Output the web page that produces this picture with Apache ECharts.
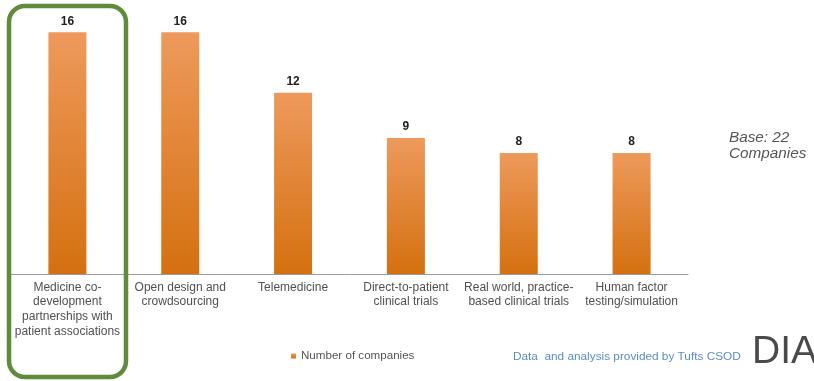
<!DOCTYPE html>
<html><head><meta charset="utf-8">
<script src="https://cdn.jsdelivr.net/npm/echarts@6/dist/echarts.min.js"></script>
<style>html,body{margin:0;padding:0;background:#fff}#c{width:814px;height:381px}</style>
</head><body><div id="c"></div>
<script>
const categories = [
  "Medicine co-\ndevelopment\npartnerships with\npatient associations",
  "Open design and\ncrowdsourcing",
  "Telemedicine",
  "Direct-to-patient\nclinical trials",
  "Real world, practice-\nbased clinical trials",
  "Human factor\ntesting/simulation"
];
const seriesName = "Number of companies";
const values = [16, 16, 12, 9, 8, 8];
const baseNote = "Base: 22\nCompanies";
const sourceNote = "Data  and analysis provided by Tufts CSOD";

const chart = echarts.init(document.getElementById('c'), null, {renderer: 'canvas'});
chart.setOption({
  animation: false,
  backgroundColor: '#fff',
  grid: {left: 11, right: 126, top: 2, bottom: 107, containLabel: false},
  legend: {
    data: [seriesName], left: 286, top: 345, itemWidth: 5, itemHeight: 5, itemGap: 2,
    icon: 'rect',
    textStyle: {fontFamily: 'Liberation Sans', fontSize: 11.6, color: '#555'}
  },
  xAxis: {
    type: 'category', data: categories,
    axisLine: {lineStyle: {color: '#9a9a9a', width: 1}},
    axisTick: {show: false},
    axisLabel: {interval: 0, margin: 6, fontFamily: 'Liberation Sans', fontSize: 12, lineHeight: 14.7, color: '#505050'}
  },
  yAxis: {type: 'value', min: 0, max: 18, show: false, splitLine: {show: false}},
  series: [{
    name: seriesName, type: 'bar', data: values, barWidth: 38,
    itemStyle: {color: new echarts.graphic.LinearGradient(0, 0, 0, 1, [
      {offset: 0, color: '#EE9A5C'}, {offset: 1, color: '#D4700F'}])},
    label: {show: true, position: 'top', distance: 5, fontFamily: 'Liberation Sans', fontWeight: 'bold', fontSize: 12, color: '#222'}
  }],
  graphic: [
    {type: 'rect', shape: {x: 9, y: 6, width: 117, height: 371, r: 16}, style: {fill: 'none', stroke: '#5E8C3A', lineWidth: 4.5}, z: 10},
    {type: 'text', left: 729, top: 130, style: {text: baseNote, fontFamily: 'Liberation Sans', fontStyle: 'italic', fontSize: 15.3, lineHeight: 16, fill: '#555'}},
    {type: 'text', left: 513, top: 351, style: {text: sourceNote, fontFamily: 'Liberation Sans', fontSize: 11.8, fill: '#5B8BC9'}},
    {type: 'text', left: 752, top: 333, style: {text: '{d|DIA}', rich: {d: {fontFamily: 'Liberation Sans', fontSize: 39, fill: '#4a4a4a'}}}}
  ]
});
</script></body></html>
